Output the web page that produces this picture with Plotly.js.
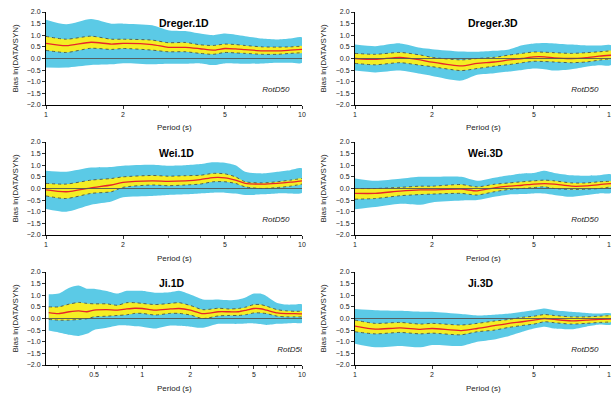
<!DOCTYPE html>
<html><head><meta charset="utf-8">
<script src="https://cdn.plot.ly/plotly-3.0.1.min.js"></script>
<style>html,body{margin:0;padding:0;background:#fff}#chart{width:611px;height:394px}</style>
</head><body><div id="chart"></div>
<script>
// ---- data ----
const panelNames = ["Dreger.1D","Dreger.3D","Wei.1D","Wei.3D","Ji.1D","Ji.3D"];
const periods = [1,1.2,1.5,1.8,2,2.6,3,3.5,4,4.5,5,5.5,6,7,8,9,10];
const periodsJi1D = [0.26,0.3,0.35,0.4,0.45,0.5,0.6,0.7,0.8,0.9,1,1.2,1.5,1.7,2,2.4,3,3.5,4,4.5,5,5.5,6,7,8,9,10];
const xTickVals = [1,2,5,10];
const xTickValsJi1D = [0.5,1,2,5,10];
const xMinorVals = [3,4,6,7,8,9];
const xMinorValsJi1D = [0.3,0.4,0.6,0.7,0.8,0.9,3,4,6,7,8,9];

// Dreger.1D
const dreger1D_blueTop = [1.67,1.47,1.7,1.5,1.5,1.43,1.22,1.18,1.07,1.0,1.07,1.02,0.96,0.86,0.82,0.86,0.9];
const dreger1D_blueBot = [-0.39,-0.39,-0.28,-0.25,-0.2,-0.25,-0.23,-0.23,-0.21,-0.28,-0.21,-0.22,-0.23,-0.21,-0.18,-0.18,-0.18];
const dreger1D_yelTop  = [0.95,0.83,0.96,0.83,0.83,0.79,0.68,0.69,0.59,0.56,0.62,0.6,0.56,0.5,0.49,0.5,0.53];
const dreger1D_median  = [0.65,0.55,0.7,0.62,0.65,0.6,0.48,0.48,0.42,0.36,0.43,0.41,0.38,0.33,0.33,0.36,0.39];
const dreger1D_yelBot  = [0.35,0.26,0.44,0.39,0.43,0.36,0.29,0.29,0.22,0.18,0.26,0.24,0.22,0.18,0.18,0.22,0.25];
// Dreger.3D
const dreger3D_blueTop = [0.6,0.53,0.65,0.46,0.4,0.3,0.29,0.33,0.39,0.57,0.65,0.67,0.65,0.6,0.56,0.56,0.57];
const dreger3D_blueBot = [-0.52,-0.6,-0.52,-0.66,-0.75,-0.95,-0.7,-0.63,-0.56,-0.49,-0.43,-0.46,-0.52,-0.46,-0.35,-0.29,-0.28];
const dreger3D_yelTop  = [0.22,0.18,0.26,0.15,0.05,-0.06,0.0,0.05,0.15,0.22,0.28,0.27,0.25,0.22,0.25,0.29,0.33];
const dreger3D_median  = [0.0,-0.04,0.05,-0.06,-0.16,-0.32,-0.21,-0.15,-0.06,0.0,0.07,0.07,0.03,0.0,0.04,0.1,0.14];
const dreger3D_yelBot  = [-0.21,-0.27,-0.18,-0.29,-0.35,-0.52,-0.43,-0.33,-0.26,-0.18,-0.12,-0.13,-0.15,-0.18,-0.15,-0.07,-0.01];
// Wei.1D
const wei1D_blueTop = [0.76,0.72,0.9,0.93,0.98,1.02,0.98,1.0,1.05,1.13,1.11,1.0,0.72,0.65,0.72,0.79,0.86];
const wei1D_blueBot = [-0.88,-1.0,-0.7,-0.56,-0.38,-0.32,-0.28,-0.25,-0.21,-0.18,-0.18,-0.22,-0.28,-0.25,-0.21,-0.21,-0.18];
const wei1D_yelTop  = [0.22,0.19,0.36,0.43,0.5,0.56,0.53,0.55,0.57,0.65,0.63,0.5,0.29,0.24,0.29,0.36,0.43];
const wei1D_median  = [-0.06,-0.14,0.03,0.15,0.26,0.33,0.31,0.33,0.38,0.47,0.46,0.36,0.22,0.19,0.22,0.27,0.33];
const wei1D_yelBot  = [-0.32,-0.43,-0.21,-0.14,0.05,0.15,0.12,0.15,0.19,0.29,0.29,0.22,0.07,0.0,0.04,0.1,0.19];
// Wei.3D
const wei3D_blueTop = [0.43,0.33,0.42,0.5,0.5,0.5,0.33,0.46,0.57,0.65,0.67,0.76,0.67,0.57,0.55,0.57,0.6];
const wei3D_blueBot = [-0.89,-0.8,-0.66,-0.7,-0.6,-0.52,-0.5,-0.36,-0.26,-0.24,-0.21,-0.22,-0.28,-0.36,-0.28,-0.21,-0.18];
const wei3D_yelTop  = [0.0,0.0,0.05,0.1,0.1,0.17,0.07,0.18,0.24,0.29,0.33,0.36,0.33,0.24,0.24,0.29,0.31];
const wei3D_median  = [-0.21,-0.21,-0.11,-0.06,-0.06,-0.03,-0.1,0.03,0.1,0.14,0.19,0.21,0.19,0.1,0.11,0.17,0.21];
const wei3D_yelBot  = [-0.46,-0.43,-0.31,-0.26,-0.24,-0.21,-0.28,-0.14,-0.04,0.0,0.04,0.07,0.0,-0.04,-0.03,0.0,0.07];
// Ji.1D
const ji1D_blueTop = [1.04,1.07,1.32,1.42,1.28,1.28,1.18,1.07,1.19,1.19,1.19,1.11,1.13,1.19,1.03,0.82,0.82,0.79,0.82,0.93,1.07,1.07,0.96,0.67,0.6,0.6,0.6];
const ji1D_blueBot = [-0.52,-0.6,-0.7,-0.75,-0.66,-0.49,-0.4,-0.3,-0.3,-0.33,-0.35,-0.43,-0.3,-0.31,-0.35,-0.4,-0.23,-0.23,-0.23,-0.21,-0.21,-0.24,-0.28,-0.23,-0.21,-0.19,-0.18];
const ji1D_yelTop  = [0.5,0.5,0.62,0.69,0.65,0.63,0.63,0.57,0.68,0.68,0.65,0.6,0.65,0.68,0.56,0.38,0.44,0.41,0.43,0.5,0.6,0.6,0.53,0.38,0.33,0.31,0.31];
const ji1D_median  = [0.25,0.21,0.29,0.33,0.29,0.36,0.38,0.36,0.41,0.44,0.43,0.36,0.41,0.43,0.36,0.21,0.29,0.29,0.29,0.36,0.43,0.42,0.36,0.24,0.21,0.21,0.2];
const ji1D_yelBot  = [-0.04,-0.07,-0.07,-0.04,-0.01,0.07,0.1,0.13,0.16,0.22,0.22,0.15,0.22,0.22,0.15,0.0,0.11,0.13,0.13,0.17,0.24,0.24,0.21,0.1,0.07,0.07,0.07];
// Ji.3D
const ji3D_blueTop = [0.41,0.36,0.33,0.29,0.29,0.19,0.13,0.16,0.21,0.29,0.36,0.43,0.36,0.29,0.24,0.21,0.21];
const ji3D_blueBot = [-1.09,-1.24,-1.18,-1.24,-1.14,-1.18,-1.0,-0.9,-0.75,-0.57,-0.43,-0.35,-0.43,-0.46,-0.35,-0.26,-0.26];
const ji3D_yelTop  = [-0.07,-0.21,-0.17,-0.24,-0.21,-0.28,-0.21,-0.11,-0.04,0.05,0.1,0.17,0.13,0.07,0.07,0.1,0.12];
const ji3D_median  = [-0.33,-0.46,-0.4,-0.47,-0.43,-0.52,-0.43,-0.31,-0.21,-0.14,-0.07,0.0,-0.04,-0.1,-0.07,-0.04,-0.03];
const ji3D_yelBot  = [-0.57,-0.66,-0.6,-0.66,-0.63,-0.7,-0.57,-0.5,-0.38,-0.3,-0.24,-0.14,-0.18,-0.24,-0.21,-0.17,-0.15];

const labelText = "RotD50";
const labelX = 7.0, labelY = -1.35;

// ---- build ----
const panels = [
  {name:panelNames[0], x:periods, bt:dreger1D_blueTop, bb:dreger1D_blueBot, yt:dreger1D_yelTop, md:dreger1D_median, yb:dreger1D_yelBot},
  {name:panelNames[1], x:periods, bt:dreger3D_blueTop, bb:dreger3D_blueBot, yt:dreger3D_yelTop, md:dreger3D_median, yb:dreger3D_yelBot},
  {name:panelNames[2], x:periods, bt:wei1D_blueTop, bb:wei1D_blueBot, yt:wei1D_yelTop, md:wei1D_median, yb:wei1D_yelBot},
  {name:panelNames[3], x:periods, bt:wei3D_blueTop, bb:wei3D_blueBot, yt:wei3D_yelTop, md:wei3D_median, yb:wei3D_yelBot},
  {name:panelNames[4], x:periodsJi1D, bt:ji1D_blueTop, bb:ji1D_blueBot, yt:ji1D_yelTop, md:ji1D_median, yb:ji1D_yelBot, ji:true},
  {name:panelNames[5], x:periods, bt:ji3D_blueTop, bb:ji3D_blueBot, yt:ji3D_yelTop, md:ji3D_median, yb:ji3D_yelBot}
];

const W = 611, H = 394;
const colX = [[46/W, 302/W],[355/W, 1.0]];
const rowY = [[1-105/H, 1-12/H],[1-235/H, 1-142/H],[1-365/H, 1-272/H]];
const FONT = "Liberation Sans, Arial, Helvetica, sans-serif";
const BLUE = "#5BCAE6", YEL = "#F4EE24", RED = "#E8252B";

const traces = [];
const layout = {width:W, height:H, margin:{l:0,r:0,t:0,b:0}, paper_bgcolor:"#fff", plot_bgcolor:"#fff",
  showlegend:false, font:{family:FONT, color:"#222"}, shapes:[], annotations:[]};

function band(x, top, bot, color, xa, ya){
  return {type:"scatter", mode:"lines", x:x.concat(x.slice().reverse()), y:top.concat(bot.slice().reverse()),
    fill:"toself", fillcolor:color, line:{width:0, shape:"spline", smoothing:0.7}, xaxis:xa, yaxis:ya, hoverinfo:"skip"};
}
function line(x, y, color, width, dash, xa, ya){
  return {type:"scatter", mode:"lines", x:x, y:y, line:{color:color, width:width, dash:dash, shape:"spline", smoothing:0.7},
    xaxis:xa, yaxis:ya, hoverinfo:"skip"};
}

panels.forEach((p, i) => {
  const n = i+1, xa = "x"+n, ya = "y"+n;
  const col = i%2, row = Math.floor(i/2);
  traces.push(band(p.x, p.bt, p.bb, BLUE, xa, ya));
  traces.push(band(p.x, p.yt, p.yb, YEL, xa, ya));
  traces.push(line(p.x, p.yt, "#444", 0.8, "dot", xa, ya));
  traces.push(line(p.x, p.yb, "#444", 0.8, "dot", xa, ya));
  traces.push(line(p.x, p.md, RED, 1.3, "solid", xa, ya));
  traces.push({type:"scatter", mode:"text", x:[labelX], y:[labelY], text:[labelText], textposition:"middle right",
    textfont:{family:FONT, size:8, color:"#222", style:"italic"}, cliponaxis:true, xaxis:xa, yaxis:ya, hoverinfo:"skip"});

  const xr = p.ji ? [Math.log10(0.25), 1] : [0, 1];
  const tv = p.ji ? xTickValsJi1D : xTickVals;
  const mv = p.ji ? xMinorValsJi1D : xMinorVals;
  layout["xaxis"+n] = {domain:colX[col], anchor:ya, type:"log", range:xr, tickmode:"array", tickvals:tv, ticktext:tv.map(String),
    ticks:"outside", ticklen:3, tickwidth:0.8, tickcolor:"#000", showline:true, linecolor:"#000", linewidth:1,
    showgrid:false, zeroline:false, tickfont:{size:7, family:FONT, color:"#222"}, ticklabeloverflow:"allow",
    minor:{tickmode:"array", tickvals:mv, ticks:"outside", ticklen:2, tickwidth:0.6, tickcolor:"#000", showgrid:false}};
  layout["yaxis"+n] = {domain:rowY[row], anchor:xa, range:[-2,2], tickmode:"linear", tick0:0, dtick:0.5, tickformat:".1f",
    ticks:"outside", ticklen:3, tickwidth:0.8, tickcolor:"#000", showline:true, linecolor:"#000", linewidth:1,
    showgrid:false, zeroline:false, tickfont:{size:7, family:FONT, color:"#222"}};
  // top and right frame (gray, inward ticks)
  layout["xaxis"+(n+6)] = {overlaying:xa, side:"top", anchor:ya, type:"log", range:xr, tickmode:"array", tickvals:tv,
    showticklabels:false, ticks:"inside", ticklen:3, tickwidth:0.6, tickcolor:"#888", showline:true, linecolor:"#999", linewidth:1,
    showgrid:false, zeroline:false,
    minor:{tickmode:"array", tickvals:mv, ticks:"inside", ticklen:2, tickwidth:0.5, tickcolor:"#888", showgrid:false}};
  layout["yaxis"+(n+6)] = {overlaying:ya, side:"right", anchor:xa, range:[-2,2], tickmode:"linear", tick0:0, dtick:0.5,
    showticklabels:false, ticks:"inside", ticklen:3, tickwidth:0.6, tickcolor:"#888", showline:true, linecolor:"#999", linewidth:1,
    showgrid:false, zeroline:false,
    minor:{tick0:0, dtick:0.1, ticks:"inside", ticklen:2, tickwidth:0.5, tickcolor:"#888", showgrid:false}};

  // zero line
  layout.shapes.push({type:"line", xref:xa+" domain", x0:0, x1:1, yref:ya, y0:0, y1:0, line:{color:"#555", width:0.9}, layer:"above"});
  // panel title
  layout.annotations.push({xref:xa+" domain", yref:ya+" domain", x:0.435, y:0.88, xanchor:"left", yanchor:"middle",
    text:p.name, showarrow:false, font:{family:FONT, size:10.5, color:"#000", weight:"bold"}});
  // axis titles
  const yMid = (rowY[row][0]+rowY[row][1])/2;
  layout.annotations.push({xref:"paper", yref:"paper", x:(col===0?15:323)/W, y:yMid, xanchor:"center", yanchor:"middle",
    textangle:-90, text:"Bias ln(DATA/SYN)", showarrow:false, font:{family:FONT, size:8, color:"#222"}});
  const ly = [128, 258, 388][row];
  layout.annotations.push({xref:"paper", yref:"paper", x:(colX[col][0]+colX[col][1])/2, y:1-ly/H, xanchor:"center", yanchor:"middle",
    text:"Period (s)", showarrow:false, font:{family:FONT, size:8, color:"#222"}});
});

Plotly.newPlot("chart", traces, layout, {displayModeBar:false, staticPlot:true});
</script></body></html>
